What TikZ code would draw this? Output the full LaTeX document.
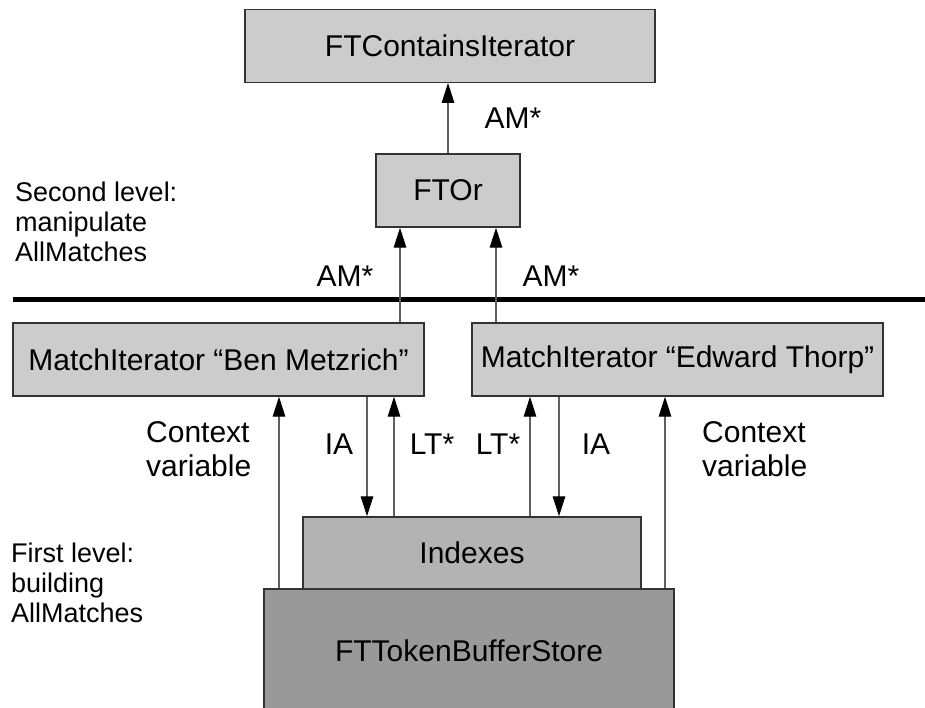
\documentclass[tikz,border=0pt]{standalone}
\usepackage{fontspec}
\setmainfont{Liberation Sans}
\usetikzlibrary{arrows.meta}

\definecolor{boxline}{HTML}{333333}
\definecolor{lightfill}{HTML}{CCCCCC}
\definecolor{midfill}{HTML}{B3B3B3}
\definecolor{darkfill}{HTML}{999999}
\definecolor{wire}{HTML}{606060}

\tikzset{
  block/.style={draw=boxline, line width=1.4pt, fill=lightfill, inner sep=0pt,
    font=\fontsize{30}{34.5}\selectfont, text=black},
  flow/.style={draw=wire, line width=1.2pt,
    -{Triangle[length=20pt,width=12.5pt,color=black]}},
  lbl/.style={font=\fontsize{30}{34.5}\selectfont, inner sep=0pt, align=left},
  side/.style={font=\fontsize{27}{30}\selectfont, inner sep=0pt, align=left, anchor=west},
}

\begin{document}
\begin{tikzpicture}[x=1pt,y=-1pt]
  \path[use as bounding box, clip] (0,0) rectangle (925,708);

  % boxes
  \node[block, minimum width=410pt, minimum height=72.5pt] (top) at (450,46) {FTContainsIterator};
  \node[block, minimum width=144pt, minimum height=73pt] (ftor) at (448,190.5) {FTOr};
  \node[block, minimum width=411pt, minimum height=73pt] (mb) at (218.5,359.5) {MatchIterator “Ben Metzrich”};
  \node[block, minimum width=411pt, minimum height=73pt] (me) at (677.5,359.5) {MatchIterator “Edward Thorp”};
  \node[block, fill=midfill, minimum width=338pt, minimum height=72pt] (idx) at (472,553) {Indexes};
  \node[block, fill=darkfill, minimum width=410pt, minimum height=124pt] (store) at (469,651) {FTTokenBufferStore};

  % level divider
  \coordinate (divL) at (13,299.5);
  \coordinate (divR) at (926,299.5);
  \draw[line width=4.5pt, black] (divL) -- (divR);

  % second level
  \draw[flow] (ftor.north) -- (ftor.north |- top.south);
  \draw[flow] ([xshift=-48pt]ftor.south |- mb.north) -- ([xshift=-48pt]ftor.south);
  \draw[flow] ([xshift=48pt]ftor.south |- me.north) -- ([xshift=48pt]ftor.south);

  % first level
  \draw[flow] ([xshift=-190pt]store.north) -- ([xshift=-190pt]store.north |- mb.south);
  \draw[flow] ([xshift=-105pt]idx.north |- mb.south) -- ([xshift=-105pt]idx.north);
  \draw[flow] ([xshift=-78pt]idx.north) -- ([xshift=-78pt]idx.north |- mb.south);
  \draw[flow] ([xshift=58pt]idx.north) -- ([xshift=58pt]idx.north |- me.south);
  \draw[flow] ([xshift=87pt]idx.north |- me.south) -- ([xshift=87pt]idx.north);
  \draw[flow] ([xshift=196pt]store.north) -- ([xshift=196pt]store.north |- me.south);

  % connector labels
  \node[lbl] (amtop) at (513,118) {AM*};
  \node[lbl] (amleft) at (345,276) {AM*};
  \node[lbl] (amright) at (551,276) {AM*};
  \node[lbl, anchor=west] (ctxl) at (146,449) {Context\\variable};
  \node[lbl, anchor=west] (ctxr) at (702,449) {Context\\variable};
  \node[lbl] (ial) at (339,444) {IA};
  \node[lbl] (ltl) at (432,444) {LT*};
  \node[lbl] (ltr) at (498,444) {LT*};
  \node[lbl] (iar) at (596,444) {IA};

  % level captions
  \node[side] (lvl2) at (15,222) {Second level:\\manipulate\\AllMatches};
  \node[side] (lvl1) at (11,583) {First level:\\building\\AllMatches};
\end{tikzpicture}
\end{document}
